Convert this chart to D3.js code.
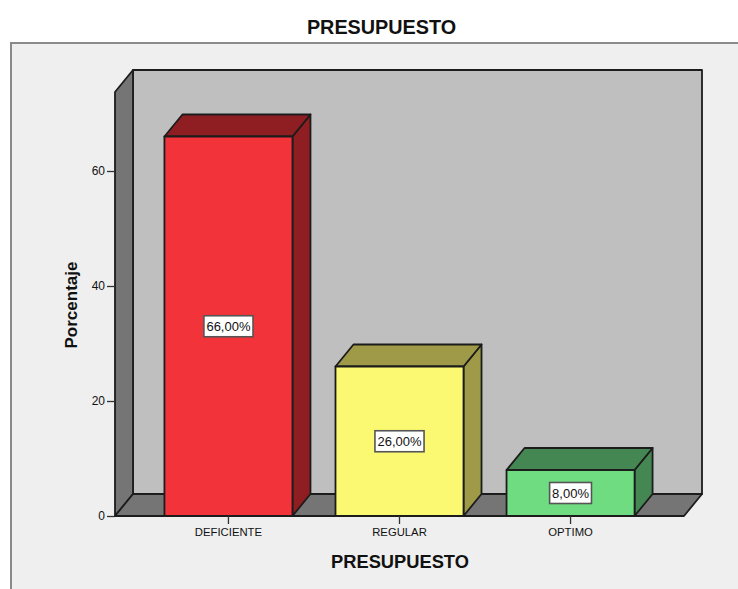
<!DOCTYPE html>
<html>
<head>
<meta charset="utf-8">
<script src="https://cdn.jsdelivr.net/npm/d3@7/dist/d3.min.js"></script>
<style>
  html, body { margin: 0; padding: 0; background: #fff; }
  svg { display: block; }
  text { font-family: "Liberation Sans", Arial, sans-serif; fill: #111; }
</style>
</head>
<body>
<svg id="chart" width="738" height="589"></svg>
<script>
// Presupuesto: percentage of responses per rating, drawn as 3D columns.
const categories = ["DEFICIENTE", "REGULAR", "OPTIMO"];
const percentages = [66, 26, 8];
const barLabels = ["66,00%", "26,00%", "8,00%"];
const frontColors = ["#f2333a", "#fbf871", "#70dc82"];
const sideColors = ["#8e1e22", "#9e9a48", "#458753"];
const yTicks = [0, 20, 40, 60];
const chartTitle = "PRESUPUESTO";
const xTitle = "PRESUPUESTO";
const yTitle = "Porcentaje";

const depthX = 18, depthY = -22;
const inkColor = "#1c1c1c";
const wallSide = "#757575", wallBack = "#bfbfbf", panelFill = "#efefef";

const svg = d3.select("#chart");
const y = d3.scaleLinear().domain([0, 73.74]).range([516, 92]);
const x = d3.scaleBand().domain(categories).range([115, 684])
  .paddingInner(0.2515).paddingOuter(0.289);

// Closed polygon, outlined in the chart's ink colour.
function poly(g, pts, fill, width = 1.8) {
  return g.append("path")
    .attr("d", d3.line()(pts) + "Z")
    .attr("fill", fill)
    .attr("stroke", inkColor)
    .attr("stroke-width", width)
    .attr("stroke-linejoin", "round");
}

// Panel behind the plot: border on the top and left only.
svg.append("rect").attr("x", 11).attr("y", 43).attr("width", 727).attr("height", 546).attr("fill", panelFill);
svg.append("path").attr("d", "M11,589V43H738").attr("fill", "none").attr("stroke", "#8a8a8a").attr("stroke-width", 2);

svg.append("text").attr("x", 381.5).attr("y", 34).attr("text-anchor", "middle")
  .attr("font-size", 19.8).attr("font-weight", 700).text(chartTitle);

// Box walls and floor.
const walls = svg.append("g");
const [x0, x1] = x.range();
const yBase = y(0), yTop = y.range()[1];
poly(walls, [[x0 + depthX, yBase + depthY], [x1 + depthX, yBase + depthY], [x1 + depthX, yTop + depthY], [x0 + depthX, yTop + depthY]], wallBack);
poly(walls, [[x0, yBase], [x0 + depthX, yBase + depthY], [x0 + depthX, yTop + depthY], [x0, yTop]], wallSide);
poly(walls, [[x0, yBase], [x1, yBase], [x1 + depthX, yBase + depthY], [x0 + depthX, yBase + depthY]], wallSide);

// Columns: side and top faces first, then the front face.
const bars = svg.append("g");
categories.forEach((c, i) => {
  const l = x(c), r = l + x.bandwidth(), t = y(percentages[i]);
  poly(bars, [[r, yBase], [r + depthX, yBase + depthY], [r + depthX, t + depthY], [r, t]], sideColors[i]);
  poly(bars, [[l, t], [r, t], [r + depthX, t + depthY], [l + depthX, t + depthY]], sideColors[i]);
  poly(bars, [[l, yBase], [r, yBase], [r, t], [l, t]], frontColors[i]);
});

// Axes.
const yAxis = svg.append("g").attr("transform", `translate(${x0},0)`)
  .call(d3.axisLeft(y).tickValues(yTicks).tickFormat(d3.format("d")).tickSize(8).tickPadding(2));
const xAxis = svg.append("g").attr("transform", `translate(0,${yBase})`)
  .call(d3.axisBottom(x).tickSize(8).tickPadding(4));
[yAxis, xAxis].forEach(a => {
  a.select(".domain").remove();
  a.selectAll(".tick line").attr("stroke", "#333").attr("stroke-width", 1.3);
  a.selectAll("text").attr("font-family", '"Liberation Sans", Arial, sans-serif').attr("font-size", 11.3).attr("fill", "#222");
});
yAxis.selectAll("text").attr("font-size", 12);

svg.append("text").attr("x", 400).attr("y", 568).attr("text-anchor", "middle")
  .attr("font-size", 18.3).attr("font-weight", 700).text(xTitle);
svg.append("text").attr("transform", "translate(77,305) rotate(-90)").attr("text-anchor", "middle")
  .attr("font-size", 17).attr("font-weight", 700).text(yTitle);

// Value boxes, centred on each column's front face.
const tags = svg.append("g");
categories.forEach((c, i) => {
  const cx = x(c) + x.bandwidth() / 2, cy = y(percentages[i] / 2);
  const tag = tags.append("g").attr("transform", `translate(${cx},${cy})`);
  const rect = tag.append("rect").attr("fill", "#fff").attr("stroke", "#555").attr("stroke-width", 1.6);
  const label = tag.append("text").attr("text-anchor", "middle").attr("dy", "0.36em")
    .attr("font-size", 13).attr("fill", "#111").text(barLabels[i]);
  const w = label.node().getComputedTextLength() + 5;
  rect.attr("x", -w / 2).attr("y", -10.5).attr("width", w).attr("height", 21);
});
</script>
</body>
</html>
